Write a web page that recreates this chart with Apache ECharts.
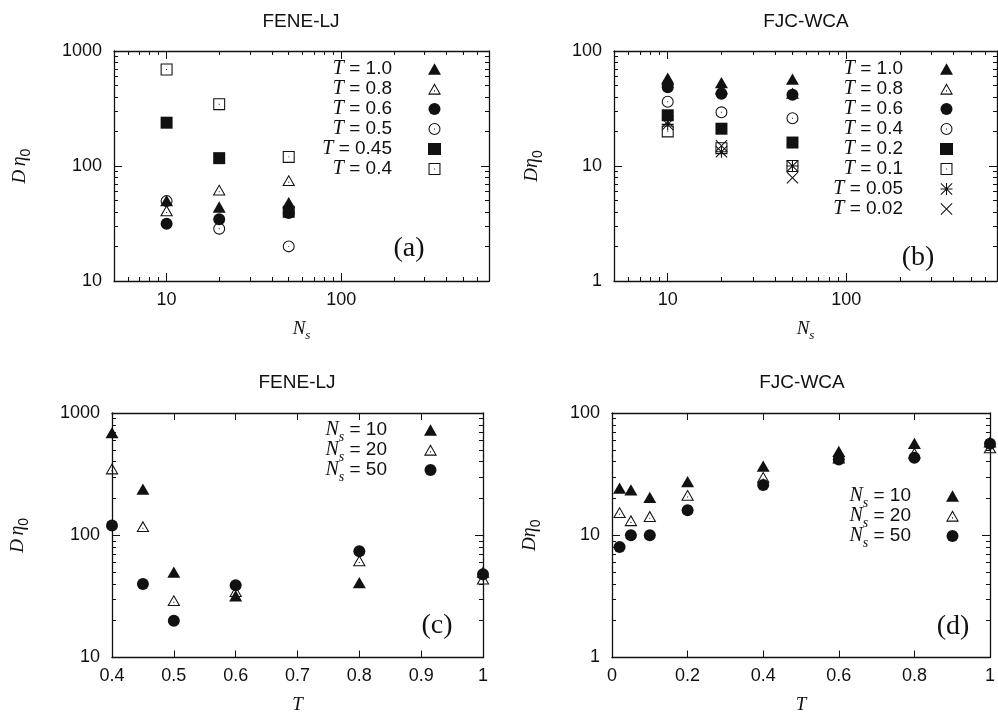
<!DOCTYPE html>
<html><head><meta charset="utf-8">
<script src="https://cdn.jsdelivr.net/npm/echarts@6/dist/echarts.min.js"></script>
<style>html,body{margin:0;padding:0;background:#fff}#c{width:998px;height:715px}</style>
</head><body><div id="c"></div>
<script>
// ---------------- data ----------------
// Panel (a) FENE-LJ : D*eta0 vs Ns, one array per temperature
const nsA = [10, 20, 50];
const a_T1_0 = [50, 44, 48];
const a_T0_8 = [41, 62, 75];
const a_T0_6 = [31.5, 34.5, 39];
const a_T0_5 = [49.5, 28.5, 20];
const a_T0_45 = [238, 117, 40];
const a_T0_4 = [690, 345, 120];
// Panel (b) FJC-WCA : D*eta0 vs Ns
const nsB = [10, 20, 50];
const b_T1_0 = [58, 53, 57];
const b_T0_8 = [56.5, 47, 43];
const b_T0_6 = [48.3, 42.5, 41.7];
const b_T0_4 = [36.2, 29.3, 26];
const b_T0_2 = [27.6, 21.1, 16];
const b_T0_1 = [20, 14.3, 10];
const b_T0_05 = [23, 13.3, 10];
const b_T0_02 = [24.3, 15, 7.9];
// Panel (c) FENE-LJ : D*eta0 vs T, one array per Ns
const tempsC = [0.4, 0.45, 0.5, 0.6, 0.8, 1.0];
const c_Ns10 = [690, 238, 50, 32, 41, 50];
const c_Ns20 = [350, 118, 29.3, 34.7, 62, 44];
const c_Ns50 = [120, 40, 20, 39, 74, 48];
// Panel (d) FJC-WCA : D*eta0 vs T
const tempsD = [0.02, 0.05, 0.1, 0.2, 0.4, 0.6, 0.8, 1.0];
const d_Ns10 = [24.3, 23.5, 20.4, 27.5, 36.8, 48.6, 56.5, 58];
const d_Ns20 = [15.4, 13.2, 14.3, 21.3, 29.9, 43, 47, 52];
const d_Ns50 = [8.0, 10, 10, 16, 25.8, 41.6, 43, 56];
// tick values
const nsMajor = [10, 100];
const nsMinor = [6, 7, 8, 9, 20, 30, 40, 50, 60, 70, 80, 90, 200, 300, 400, 500, 600, 700];
const feneMajor = [10, 100, 1000];
const feneMinor = [20, 30, 40, 50, 60, 70, 80, 90, 200, 300, 400, 500, 600, 700, 800, 900];
const fjcMajor = [1, 10, 100];
const fjcMinor = [2, 3, 4, 5, 6, 7, 8, 9, 20, 30, 40, 50, 60, 70, 80, 90];
const tMajorC = [0.4, 0.5, 0.6, 0.7, 0.8, 0.9, 1];
const tMajorD = [0, 0.2, 0.4, 0.6, 0.8, 1];

// ---------------- style ----------------
const SANS = '"Liberation Sans", Arial, Helvetica, sans-serif';
const SERIF = '"Liberation Serif", "Times New Roman", serif';
const INK = '#111';

const SYM = {
  triF: 'path://M50,0L100,87L0,87Z',
  triO: 'path://M50,0L100,87L0,87Z M50,16L14,79L86,79Z M46,54L54,54L54,62L46,62Z',
  cirF: 'circle',
  cirO: 'path://M0,50A50,50 0 1 1 100,50A50,50 0 1 1 0,50Z M9,50A41,41 0 1 0 91,50A41,41 0 1 0 9,50Z M46,46L54,46L54,54L46,54Z',
  sqF: 'rect',
  sqO: 'path://M0,0L100,0L100,100L0,100Z M9,9L9,91L91,91L91,9Z M46,46L54,46L54,54L46,54Z',
  ast: 'path://M45.5,0L54.5,0L54.5,100L45.5,100Z M0,45.5L100,45.5L100,54.5L0,54.5Z M6,0L100,94L94,100L0,6Z M94,0L100,6L6,100L0,94Z',
  crs: 'path://M6,0L100,94L94,100L0,6Z M94,0L100,6L6,100L0,94Z'
};
const SIZE = {triF: 13, triO: 13, cirF: 12, cirO: 12, sqF: 12, sqO: 12, ast: 12, crs: 12};

const grids = [
  {left: 114, top: 51, width: 375, height: 230},
  {left: 614, top: 51, width: 383, height: 230},
  {left: 112, top: 413, width: 371, height: 247},
  {left: 612, top: 413, width: 381, height: 247}
];

const xAxes = [], yAxes = [];
function addAxes(list, dim, gi, cfg) {
  const mainPos = dim === 'x' ? 'bottom' : 'left';
  const mirPos = dim === 'x' ? 'top' : 'right';
  const common = {gridIndex: gi, type: cfg.type, min: cfg.min, max: cfg.max,
    splitLine: {show: false}, minorTick: {show: false}, axisPointer: {show: false}, silent: true};
  if (cfg.type === 'log') common.logBase = 10;
  const lineOn = {show: true, onZero: false, lineStyle: {color: INK, width: 1.3}};
  const lineOff = {show: false, onZero: false};
  const tick = (vals, len) => ({show: true, inside: true, length: len, customValues: vals, lineStyle: {color: INK, width: 1}});
  const mainIdx = list.length;
  list.push(Object.assign({}, common, {
    position: mainPos, axisLine: lineOn, axisTick: tick(cfg.majors, cfg.majorLen),
    axisLabel: {show: true, customValues: cfg.majors, margin: cfg.margin, fontFamily: SANS, fontSize: 18, color: INK, formatter: cfg.fmt},
    name: cfg.name, nameLocation: 'middle', nameGap: cfg.nameGap, nameTextStyle: cfg.nameStyle
  }));
  list.push(Object.assign({}, common, {position: mirPos, axisLine: lineOn, axisTick: tick(cfg.majors, cfg.majorLen), axisLabel: {show: false}}));
  if (cfg.minors && cfg.minors.length) {
    list.push(Object.assign({}, common, {position: mainPos, axisLine: lineOff, axisTick: tick(cfg.minors, 4), axisLabel: {show: false}}));
    list.push(Object.assign({}, common, {position: mirPos, axisLine: lineOff, axisTick: tick(cfg.minors, 4), axisLabel: {show: false}}));
  }
  return mainIdx;
}
const fmtInt = v => String(Math.round(v));
const fmtDec = v => String(+(+v).toFixed(2));

const nsName = '{n|N}{s|s}';
const nsNameStyle = {color: INK, rich: {
  n: {fontFamily: SERIF, fontStyle: 'italic', fontSize: 19, lineHeight: 16},
  s: {fontFamily: SERIF, fontStyle: 'italic', fontSize: 13, lineHeight: 2, padding: [14, 0, 0, 0]}
}};
const tNameStyle = {color: INK, fontFamily: SERIF, fontStyle: 'italic', fontSize: 19, lineHeight: 16};
const yNameStyle = {color: INK, rich: {
  d: {fontFamily: SERIF, fontStyle: 'italic', fontSize: 19, lineHeight: 18},
  e: {fontFamily: SERIF, fontStyle: 'italic', fontSize: 20, lineHeight: 18},
  z: {fontFamily: SANS, fontSize: 14, lineHeight: 4, padding: [12, 0, 0, 0]}
}};

const ax = [];
// panel a
ax.push({x: addAxes(xAxes, 'x', 0, {type: 'log', min: 5, max: 700, majors: nsMajor, minors: nsMinor, majorLen: 8, margin: 10, fmt: fmtInt, name: nsName, nameGap: 40, nameStyle: nsNameStyle}),
         y: addAxes(yAxes, 'y', 0, {type: 'log', min: 10, max: 1000, majors: feneMajor, minors: feneMinor, majorLen: 8, margin: 12, fmt: fmtInt, name: '{d|D} {e|η}{z|0}', nameGap: 85, nameStyle: yNameStyle})});
// panel b
ax.push({x: addAxes(xAxes, 'x', 1, {type: 'log', min: 5, max: 700, majors: nsMajor, minors: nsMinor, majorLen: 8, margin: 10, fmt: fmtInt, name: nsName, nameGap: 40, nameStyle: nsNameStyle}),
         y: addAxes(yAxes, 'y', 1, {type: 'log', min: 1, max: 100, majors: fjcMajor, minors: fjcMinor, majorLen: 8, margin: 12, fmt: fmtInt, name: '{d|D}{e|η}{z|0}', nameGap: 73, nameStyle: yNameStyle})});
// panel c
ax.push({x: addAxes(xAxes, 'x', 2, {type: 'value', min: 0.4, max: 1, majors: tMajorC, minors: [], majorLen: 7, margin: 10, fmt: fmtDec, name: 'T', nameGap: 39, nameStyle: tNameStyle}),
         y: addAxes(yAxes, 'y', 2, {type: 'log', min: 10, max: 1000, majors: feneMajor, minors: feneMinor, majorLen: 8, margin: 12, fmt: fmtInt, name: '{d|D} {e|η}{z|0}', nameGap: 85, nameStyle: yNameStyle})});
// panel d
ax.push({x: addAxes(xAxes, 'x', 3, {type: 'value', min: 0, max: 1, majors: tMajorD, minors: [], majorLen: 7, margin: 10, fmt: fmtDec, name: 'T', nameGap: 39, nameStyle: tNameStyle}),
         y: addAxes(yAxes, 'y', 3, {type: 'log', min: 1, max: 100, majors: fjcMajor, minors: fjcMinor, majorLen: 8, margin: 12, fmt: fmtInt, name: '{d|D}{e|η}{z|0}', nameGap: 73, nameStyle: yNameStyle})});

const series = [];
const legendNames = [[], [], [], []];
function addSeries(panel, key, label, xs, ys, sym) {
  const name = key + ':' + label;
  legendNames[panel].push(name);
  series.push({
    type: 'scatter', name, xAxisIndex: ax[panel].x, yAxisIndex: ax[panel].y,
    data: xs.map((x, i) => [x, ys[i]]),
    symbol: SYM[sym], symbolSize: SIZE[sym], symbolKeepAspect: true,
    itemStyle: {color: INK, opacity: 1}, emphasis: {disabled: true}, silent: true, animation: false
  });
}
addSeries(0, 'a', '1.0', nsA, a_T1_0, 'triF');
addSeries(0, 'a', '0.8', nsA, a_T0_8, 'triO');
addSeries(0, 'a', '0.6', nsA, a_T0_6, 'cirF');
addSeries(0, 'a', '0.5', nsA, a_T0_5, 'cirO');
addSeries(0, 'a', '0.45', nsA, a_T0_45, 'sqF');
addSeries(0, 'a', '0.4', nsA, a_T0_4, 'sqO');

addSeries(1, 'b', '1.0', nsB, b_T1_0, 'triF');
addSeries(1, 'b', '0.8', nsB, b_T0_8, 'triO');
addSeries(1, 'b', '0.6', nsB, b_T0_6, 'cirF');
addSeries(1, 'b', '0.4', nsB, b_T0_4, 'cirO');
addSeries(1, 'b', '0.2', nsB, b_T0_2, 'sqF');
addSeries(1, 'b', '0.1', nsB, b_T0_1, 'sqO');
addSeries(1, 'b', '0.05', nsB, b_T0_05, 'ast');
addSeries(1, 'b', '0.02', nsB, b_T0_02, 'crs');

addSeries(2, 'c', '10', tempsC, c_Ns10, 'triF');
addSeries(2, 'c', '20', tempsC, c_Ns20, 'triO');
addSeries(2, 'c', '50', tempsC, c_Ns50, 'cirF');

addSeries(3, 'd', '10', tempsD, d_Ns10, 'triF');
addSeries(3, 'd', '20', tempsD, d_Ns20, 'triO');
addSeries(3, 'd', '50', tempsD, d_Ns50, 'cirF');

function legendFor(panel, right, top, gap, itemGap) {
  return {
    data: legendNames[panel], orient: 'vertical', align: 'right', right, top, padding: 0,
    itemWidth: 13, itemHeight: 12, itemGap, selectedMode: false,
    formatter: n => {
      const parts = n.split(':');
      const head = (parts[0] === 'a' || parts[0] === 'b') ? '{t|T}' : '{t|N}{s|s}';
      return head + ' = ' + parts[1] + '{sp| }';
    },
    textStyle: {fontFamily: SANS, fontSize: 19, color: INK, lineHeight: 16, rich: {
      t: {fontFamily: SERIF, fontStyle: 'italic', fontSize: 20, lineHeight: 16},
      s: {fontFamily: SERIF, fontStyle: 'italic', fontSize: 14, lineHeight: 2, padding: [14, 0, 0, 0]},
      sp: {width: gap, lineHeight: 16}
    }}
  };
}

const txt = (text, x, y, font, size) => ({type: 'text', x, y, silent: true,
  style: {text, fontFamily: font, fontSize: size, fill: INK, align: 'center', verticalAlign: 'middle'}});

const option = {
  backgroundColor: '#fff',
  animation: false,
  grid: grids.map(g => Object.assign({containLabel: false}, g)),
  xAxis: xAxes,
  yAxis: yAxes,
  legend: [legendFor(0, 557, 59, 31, 0), legendFor(1, 45, 59, 32, 0), legendFor(2, 561, 416, 32, -8), legendFor(3, 39, 482, 30, -8)],
  series,
  graphic: {elements: [
    txt('FENE-LJ', 301, 22, SANS, 19),
    txt('FJC-WCA', 806, 22, SANS, 19),
    txt('FENE-LJ', 297, 383, SANS, 19),
    txt('FJC-WCA', 802, 383, SANS, 19),
    txt('(a)', 409, 249, SERIF, 28),
    txt('(b)', 918, 258, SERIF, 28),
    txt('(c)', 437, 626, SERIF, 28),
    txt('(d)', 953, 627, SERIF, 28)
  ]}
};
const chart = echarts.init(document.getElementById('c'), null, {renderer: 'canvas'});
chart.setOption(option);
</script></body></html>
